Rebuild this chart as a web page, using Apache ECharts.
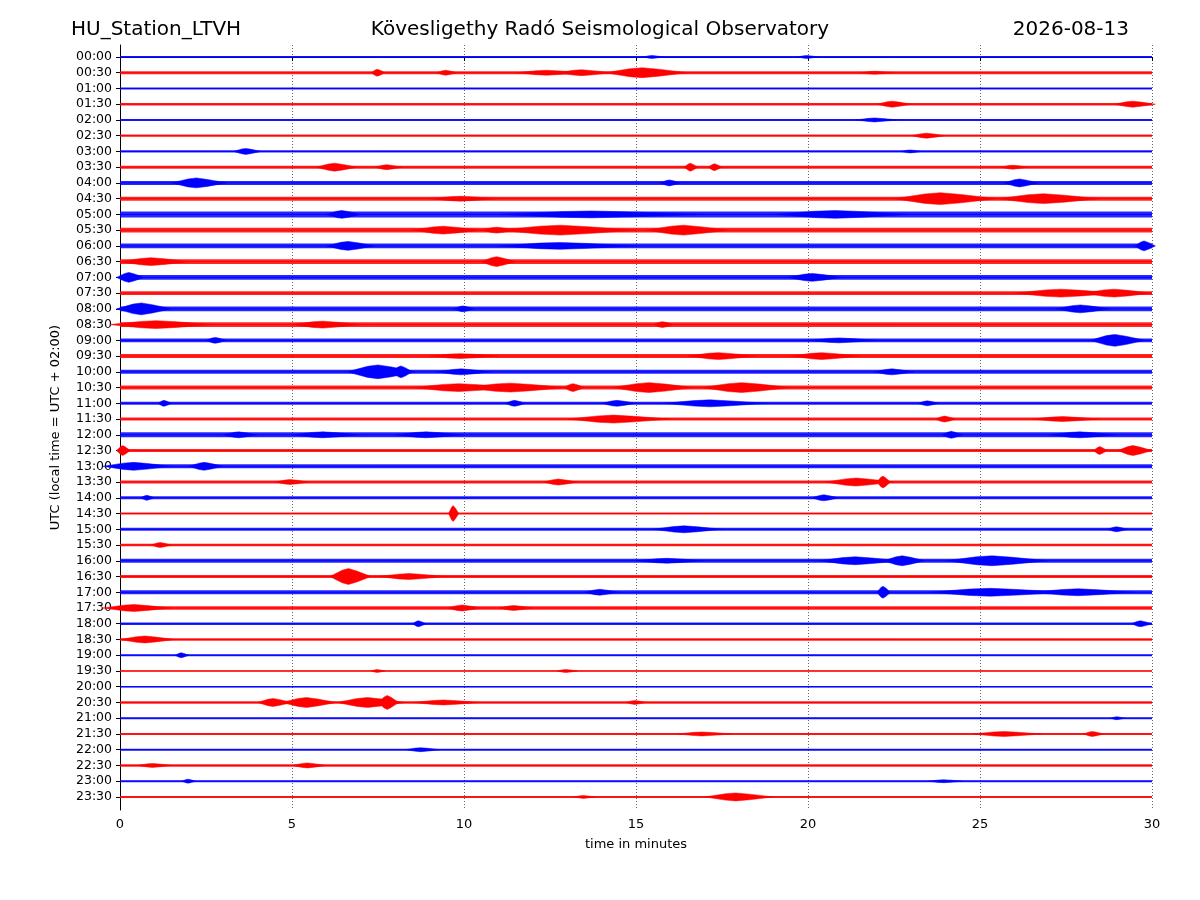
<!DOCTYPE html>
<html><head><meta charset="utf-8">
<script src="https://cdn.jsdelivr.net/npm/echarts@6/dist/echarts.min.js"></script>
<style>html,body{margin:0;background:#fff}#c{width:1200px;height:900px}</style>
</head><body><div id="c"></div>
<script>
var rowLabels=[];for(var h=0;h<24;h++){var s=(h<10?'0':'')+h;rowLabels.push(s+':00',s+':30');}
var xTicks=[0,5,10,15,20,25,30];
// per-row background noise half-amplitude (px-ish units)
var baseAmp=[1,1.5,1,1.2,1,1.2,1.2,1.5,2,2,3,2.5,2.5,2.5,2.5,2,2.5,2.5,2,2,2,2,1.5,1.5,2.5,1.5,2,1.5,1.5,1,1.5,1.2,2,1.5,2,1.8,1.2,1.2,1,0.8,0.8,1.2,1,1,1,1.2,1,1];
// events per row: [minute, half-duration (min), half-amplitude]
var events=[
[[15.5,0.3,1.5],[20,0.3,1.5]],
[[7.5,0.2,3.5],[9.5,0.3,2.5],[12.5,1,2.5],[13.5,0.8,3],[15.3,1.2,5],[22,0.5,1.5]],
[],
[[22.5,0.5,3],[29.5,0.6,3]],
[[22,0.6,2]],
[[23.5,0.5,2.5]],
[[3.7,0.4,3],[23,0.3,1.5]],
[[6.3,0.6,4],[7.8,0.4,2.5],[16.6,0.2,4],[17.3,0.2,3.5],[26,0.4,2]],
[[2.3,0.8,5],[16,0.3,3],[26.2,0.5,4]],
[[24,1.5,6],[27,1.5,5],[10,1,2.5]],
[[6.5,0.5,4],[14,3,3.5],[21,2,4]],
[[9.5,1,4],[13,2,5],[16.5,1.2,5],[11,0.5,3]],
[[6.7,0.7,4.5],[13,2,3.5],[29.8,0.3,5]],
[[1,1,4],[11,0.5,5]],
[[0.3,0.4,5],[20.2,0.8,4]],
[[27.5,1.5,4],[29,1,4]],
[[0.7,0.8,6],[10,0.3,3],[28,0.8,4]],
[[1.2,1.5,4],[6,1,3.5],[15.8,0.3,3]],
[[29,0.8,6],[2.8,0.3,3],[21,1,2.5]],
[[17.5,1,3.5],[20.5,1,3.5],[10,1,2.5]],
[[7.6,1,7],[8.2,0.3,6],[10,0.8,3],[22.5,0.6,3]],
[[10,1.5,4],[11.5,1.5,4.5],[13.2,0.3,4],[15.5,1.2,5],[18.2,1.3,5]],
[[1.3,0.2,3],[11.5,0.3,3],[14.5,0.5,3],[17.3,1.5,3.5],[23.5,0.3,2.5]],
[[14.5,1.5,4],[24,0.3,3],[27.5,1,2.5]],
[[3.5,0.5,3],[6,1,3],[9,1,3],[24.2,0.3,3.5],[28,1,3]],
[[0.1,0.2,5],[28.5,0.2,4],[29.5,0.5,5]],
[[0.5,1,4],[2.5,0.5,4]],
[[5,0.5,2.5],[12.8,0.5,3],[21.5,1,4],[22.2,0.2,6]],
[[0.8,0.2,2.5],[20.5,0.4,3]],
[[9.7,0.15,8]],
[[16.5,1,3.5],[29,0.3,2.5]],
[[1.2,0.3,2.5]],
[[21.5,1.2,4],[22.8,0.6,5],[25.5,1.5,5],[16,1,2.5]],
[[6.7,0.6,8],[8.5,1,3]],
[[14,0.5,3],[22.2,0.2,6],[25.5,2,4],[28,1.5,3.5]],
[[0.5,1,3.5],[10,0.5,3],[11.5,0.5,2.5]],
[[8.7,0.2,3],[29.7,0.3,3]],
[[0.8,0.8,3.5]],
[[1.8,0.2,2.5]],
[[7.5,0.2,1.5],[13,0.3,1.5]],
[],
[[4.5,0.5,4],[5.5,0.8,5],[7.3,1,5],[7.8,0.3,7],[9.5,1,2.5],[15,0.3,2]],
[[29,0.2,1.5]],
[[17,0.8,2],[25.8,1,2.5],[28.3,0.3,2.5]],
[[8.8,0.5,2]],
[[5.5,0.5,2.5],[1,0.5,2]],
[[2,0.2,2],[24,0.5,1.5]],
[[18,1,4],[13.5,0.3,1.5]]
];
var U=15.9;
var bandData=baseAmp.map(function(a,i){return [i,a];});
var evData=[];events.forEach(function(r,i){r.forEach(function(e){evData.push([i,e[0],e[1],e[2]]);});});
function col(i){return i%2===0?'#0000ff':'#ff0000';}
var chart=echarts.init(document.getElementById('c'));
chart.setOption({
animation:false,
title:[
{text:'HU_Station_LTVH',left:66,top:15,textStyle:{fontFamily:'DejaVu Sans',fontSize:20,fontWeight:'normal',color:'#000'}},
{text:'Kövesligethy Radó Seismological Observatory',left:'center',top:15,textStyle:{fontFamily:'DejaVu Sans',fontSize:20,fontWeight:'normal',color:'#000'}},
{text:'2026-08-13',right:66,top:15,textStyle:{fontFamily:'DejaVu Sans',fontSize:20,fontWeight:'normal',color:'#000'}}],
grid:{left:120,right:48,top:45,bottom:90},
xAxis:{type:'value',min:0,max:30,interval:5,name:'time in minutes',nameLocation:'middle',nameGap:28,
nameTextStyle:{fontFamily:'DejaVu Sans',fontSize:13,color:'#000'},
axisLine:{lineStyle:{color:'#000'}},axisTick:{lineStyle:{color:'#000'},length:4},
axisLabel:{fontFamily:'DejaVu Sans',fontSize:13,color:'#000'},
splitLine:{show:true,lineStyle:{color:'#000',type:[1,2],width:0.6}}},
yAxis:{type:'value',min:-0.76,max:47.83,inverse:true,name:'UTC (local time = UTC + 02:00)',nameLocation:'middle',nameGap:58,
nameTextStyle:{fontFamily:'DejaVu Sans',fontSize:13,color:'#000'},
axisLine:{show:true,lineStyle:{color:'#000'}},
axisTick:{show:true,customValues:rowLabels.map(function(_,i){return i;}),lineStyle:{color:'#000'},length:4},
axisLabel:{customValues:rowLabels.map(function(_,i){return i;}),formatter:function(v){return rowLabels[Math.round(v)];},fontFamily:'DejaVu Sans',fontSize:12.5,color:'#000'},
splitLine:{show:false}},
series:[
{type:'custom',data:bandData,renderItem:function(p,api){
 var i=api.value(0),a=api.value(1)/U;
 var p1=api.coord([0,i-a]),p2=api.coord([30,i+a]),m1=api.coord([0,i]),m2=api.coord([30,i]);
 return {type:'group',children:[
 {type:'rect',shape:{x:p1[0],y:p1[1],width:p2[0]-p1[0],height:p2[1]-p1[1]},style:{fill:col(i),opacity:0.85}},
 {type:'line',shape:{x1:m1[0],y1:m1[1],x2:m2[0],y2:m2[1]},style:{stroke:col(i),lineWidth:1}}]};
}},
{type:'custom',data:evData,renderItem:function(p,api){
 var i=api.value(0),t=api.value(1),w=api.value(2),a=api.value(3)/U;
 var pts=[[t-w,i],[t-w*0.4,i-a*0.8],[t-w*0.1,i-a],[t+w*0.3,i-a*0.7],[t+w,i],[t+w*0.3,i+a*0.7],[t-w*0.1,i+a],[t-w*0.4,i+a*0.8]].map(function(q){return api.coord(q);});
 return {type:'polygon',shape:{points:pts},style:{fill:col(i),stroke:col(i),lineWidth:0.5}};
}}
]});
</script></body></html>
